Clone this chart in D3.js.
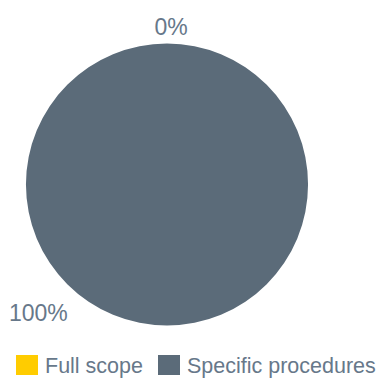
<!DOCTYPE html>
<html>
<head>
<meta charset="utf-8">
<script src="https://cdn.jsdelivr.net/npm/d3@7"></script>
<style>
  body { margin: 0; background: #fff; }
  svg { display: block; font-family: "Liberation Sans", Arial, sans-serif; }
</style>
</head>
<body>
<svg id="chart" width="381" height="378"></svg>
<script>
const categories = ["Full scope", "Specific procedures"];
const values = [0, 100];
const colors = ["#ffcc00", "#5b6b79"];

const svg = d3.select("#chart");
const textColor = "#67788a";

const cx = 167, cy = 184.5, r = 141;

const pie = d3.pie().sort(null).value(d => d.value);
const arcs = pie(categories.map((c, i) => ({ name: c, value: values[i], color: colors[i] })));

const arc = d3.arc().innerRadius(0).outerRadius(r);

const g = svg.append("g").attr("transform", `translate(${cx},${cy})`);

g.selectAll("path.slice")
  .data(arcs)
  .enter().append("path")
  .attr("class", "slice")
  .attr("d", arc)
  .attr("fill", d => d.data.color);

// labels: zero slice sits at the top, the full slice label is pushed to lower left
const isFull = d => d.endAngle - d.startAngle >= 2 * Math.PI - 1e-6;
const labelAngle = d => isFull(d) ? 1.25 * Math.PI : (d.startAngle + d.endAngle) / 2;
const labelDist = d => isFull(d) ? 182 : 158;

g.selectAll("text.label")
  .data(arcs)
  .enter().append("text")
  .attr("class", "label")
  .attr("x", d => Math.sin(labelAngle(d)) * labelDist(d) + (d.value === 0 ? 4 : 0))
  .attr("y", d => -Math.cos(labelAngle(d)) * labelDist(d))
  .attr("text-anchor", "middle")
  .attr("dominant-baseline", "central")
  .attr("font-size", 23)
  .attr("fill", textColor)
  .text(d => d3.format(".0f")(d.value) + "%");

// legend
const legend = svg.append("g").attr("transform", "translate(16,355)");
const offsets = [0, 142];
const item = legend.selectAll("g.item")
  .data(categories)
  .enter().append("g")
  .attr("class", "item")
  .attr("transform", (d, i) => `translate(${offsets[i]},0)`);

item.append("rect")
  .attr("width", 22)
  .attr("height", 20)
  .attr("fill", (d, i) => colors[i]);

item.append("text")
  .attr("x", 29)
  .attr("y", 18)
  .attr("font-size", 21.5)
  .attr("fill", textColor)
  .text(d => d);
</script>
</body>
</html>
